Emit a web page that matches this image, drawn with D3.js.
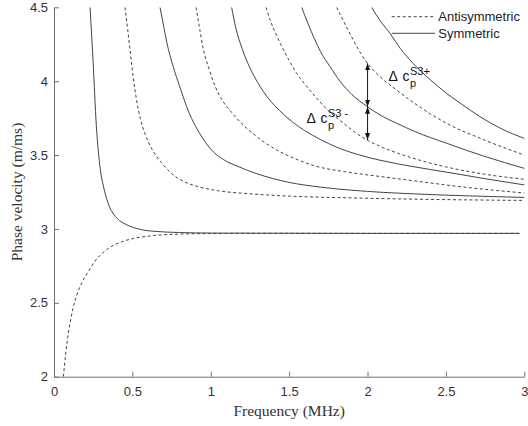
<!DOCTYPE html>
<html>
<head>
<meta charset="utf-8">
<script src="https://cdn.jsdelivr.net/npm/d3@7"></script>
<style>
  html, body { margin: 0; padding: 0; background: #fff; }
  svg { display: block; }
</style>
</head>
<body>
<svg id="chart" width="528" height="426"></svg>
<script>
// ---- data (frequency in MHz, phase velocity in m/ms) ----
const xTicks = [0, 0.5, 1, 1.5, 2, 2.5, 3];
const yTicks = [2, 2.5, 3, 3.5, 4, 4.5];

const A0_f = [0.06, 0.075, 0.091, 0.107, 0.123, 0.145, 0.166, 0.2, 0.23, 0.26, 0.293, 0.357, 0.43, 0.505, 0.6, 0.676, 0.8, 1.0, 1.5, 2.0, 2.5, 2.97];
const A0_v = [2.0, 2.16, 2.29, 2.39, 2.47, 2.55, 2.61, 2.68, 2.73, 2.78, 2.82, 2.875, 2.912, 2.935, 2.951, 2.959, 2.965, 2.969, 2.97, 2.97, 2.97, 2.97];

const S0_f = [0.23, 0.25, 0.27, 0.285, 0.3, 0.315, 0.33, 0.345, 0.36, 0.38, 0.42, 0.46, 0.55, 0.65, 0.8, 1.0, 1.5, 2.0, 2.5, 2.97];
const S0_v = [4.5, 4.12, 3.70, 3.50, 3.37, 3.29, 3.225, 3.175, 3.135, 3.10, 3.055, 3.03, 2.997, 2.983, 2.976, 2.972, 2.971, 2.97, 2.97, 2.97];

const A1_f = [0.453, 0.47, 0.485, 0.505, 0.527, 0.55, 0.58, 0.615, 0.655, 0.7, 0.75, 0.83, 0.92, 1.05, 1.25, 1.5, 1.9, 2.4, 3.0];
const A1_v = [4.5, 4.35, 4.21, 4.03, 3.87, 3.75, 3.645, 3.56, 3.49, 3.43, 3.375, 3.32, 3.286, 3.258, 3.238, 3.222, 3.21, 3.2, 3.193];

const S1_f = [0.676, 0.7, 0.72, 0.76, 0.8, 0.86, 0.93, 1.0, 1.08, 1.18, 1.29, 1.4, 1.5, 1.7, 1.9, 2.3, 2.7, 3.0];
const S1_v = [4.5, 4.37, 4.26, 4.1, 3.97, 3.79, 3.645, 3.54, 3.47, 3.42, 3.375, 3.34, 3.315, 3.283, 3.262, 3.237, 3.222, 3.213];

const A2_f = [0.906, 0.93, 0.95, 0.99, 1.03, 1.08, 1.14, 1.2, 1.27, 1.33, 1.42, 1.55, 1.67, 1.87, 2.08, 2.3, 2.6, 3.0];
const A2_v = [4.5, 4.35, 4.23, 4.08, 3.96, 3.86, 3.78, 3.71, 3.645, 3.595, 3.535, 3.47, 3.425, 3.385, 3.355, 3.325, 3.285, 3.243];

const S2_f = [1.133, 1.16, 1.2, 1.25, 1.3, 1.37, 1.44, 1.52, 1.6, 1.7, 1.8, 1.95, 2.08, 2.3, 2.5, 2.75, 3.0];
const S2_v = [4.5, 4.36, 4.22, 4.09, 3.99, 3.88, 3.80, 3.725, 3.665, 3.605, 3.555, 3.50, 3.465, 3.42, 3.385, 3.34, 3.298];

const A3_f = [1.352, 1.38, 1.42, 1.46, 1.5, 1.55, 1.6, 1.68, 1.75, 1.83, 1.9, 2.0, 2.1, 2.2, 2.35, 2.5, 2.75, 3.0];
const A3_v = [4.5, 4.41, 4.31, 4.22, 4.14, 4.05, 3.98, 3.88, 3.80, 3.73, 3.67, 3.60, 3.55, 3.51, 3.46, 3.42, 3.37, 3.336];

const S3_f = [1.58, 1.62, 1.66, 1.7, 1.76, 1.824, 1.9, 2.0, 2.09, 2.186, 2.3, 2.504, 2.75, 3.0];
const S3_v = [4.5, 4.39, 4.29, 4.2, 4.1, 4.0, 3.91, 3.827, 3.765, 3.715, 3.66, 3.58, 3.49, 3.41];

const A4_f = [1.803, 1.85, 1.909, 1.95, 2.0, 2.08, 2.186, 2.3, 2.504, 2.75, 3.0];
const A4_v = [4.5, 4.4, 4.279, 4.2, 4.121, 4.03, 3.94, 3.85, 3.715, 3.6, 3.50];

const S4_f = [2.026, 2.08, 2.143, 2.21, 2.29, 2.4, 2.504, 2.6, 2.717, 2.85, 3.0];
const S4_v = [4.5, 4.41, 4.324, 4.22, 4.121, 4.01, 3.918, 3.845, 3.76, 3.68, 3.613];

const antisymmetric = [[A0_f, A0_v], [A1_f, A1_v], [A2_f, A2_v], [A3_f, A3_v], [A4_f, A4_v]];
const symmetric = [[S0_f, S0_v], [S1_f, S1_v], [S2_f, S2_v], [S3_f, S3_v], [S4_f, S4_v]];

// annotation: arrows at f = 2 MHz between A4, S3 and A3
const arrowF = 2;
const arrowV = [4.121, 3.827, 3.602];

const legendLabels = ["Antisymmetric", "Symmetric"];

// ---- drawing ----
const svg = d3.select("#chart");
const x = d3.scaleLinear().domain([0, 3]).range([54, 524.3]);
const y = d3.scaleLinear().domain([2, 4.5]).range([376.7, 7.3]);

const SANS = "'Liberation Sans', Arial, Helvetica, sans-serif";
const SERIF = "'Liberation Serif', 'Times New Roman', serif";

const defs = svg.append("defs");
defs.append("clipPath").attr("id", "clip")
  .append("rect").attr("x", x(0)).attr("y", y(4.5))
  .attr("width", x(3) - x(0) + 1).attr("height", y(2) - y(4.5));

const line = d3.line()
  .x(d => x(d[0])).y(d => y(d[1]))
  .curve(d3.curveMonotoneX);

const toPts = (fs, vs) => fs.map((f, i) => [f, vs[i]]);

const g = svg.append("g").attr("clip-path", "url(#clip)");

antisymmetric.forEach(([fs, vs]) => {
  g.append("path").attr("d", line(toPts(fs, vs)))
    .attr("fill", "none").attr("stroke", "#444").attr("stroke-width", 1)
    .attr("stroke-dasharray", "3,2.5");
});
symmetric.forEach(([fs, vs]) => {
  g.append("path").attr("d", line(toPts(fs, vs)))
    .attr("fill", "none").attr("stroke", "#444").attr("stroke-width", 1);
});

// axes
const xAxis = d3.axisBottom(x).tickValues(xTicks).tickFormat(d3.format("")).tickSizeInner(-5).tickSizeOuter(0).tickPadding(10);
const yAxis = d3.axisLeft(y).tickValues(yTicks).tickFormat(d3.format("")).tickSizeInner(-5).tickSizeOuter(0).tickPadding(6);

const gx = svg.append("g").attr("transform", `translate(0,${y(2)})`).call(xAxis);
const gy = svg.append("g").attr("transform", `translate(${x(0)},0)`).call(yAxis);
[gx, gy].forEach(a => {
  a.select(".domain").attr("stroke", "#707070");
  a.selectAll(".tick line").attr("stroke", "#707070");
  a.selectAll(".tick text").attr("fill", "#333").style("font-family", SANS).style("font-size", "13px");
});

// axis titles
svg.append("text").attr("x", x(1.5)).attr("y", 416)
  .attr("text-anchor", "middle").attr("fill", "#333")
  .style("font-family", SERIF).style("font-size", "15.5px")
  .text("Frequency (MHz)");
svg.append("text").attr("transform", `translate(22,${(y(2) + y(4.5)) / 2}) rotate(-90)`)
  .attr("text-anchor", "middle").attr("fill", "#333")
  .style("font-family", SERIF).style("font-size", "15.5px")
  .text("Phase velocity (m/ms)");

// legend
const lg = svg.append("g");
[0, 1].forEach(i => {
  const ly = 16.7 + i * 16.6;
  lg.append("line").attr("x1", 391.7).attr("x2", 435).attr("y1", ly).attr("y2", ly)
    .attr("stroke", "#444").attr("stroke-width", 1)
    .attr("stroke-dasharray", i === 0 ? "3,2.5" : null);
  lg.append("text").attr("x", 438.3).attr("y", ly + 4.6).attr("fill", "#222")
    .style("font-family", SANS).style("font-size", "13px").text(legendLabels[i]);
});

// arrows
defs.append("marker").attr("id", "ah").attr("viewBox", "0 0 7 5")
  .attr("refX", 7).attr("refY", 2.5).attr("markerWidth", 7).attr("markerHeight", 5)
  .attr("markerUnits", "userSpaceOnUse").attr("orient", "auto-start-reverse")
  .append("path").attr("d", "M0,0 L7,2.5 L0,5 Z").attr("fill", "#111");

for (let i = 0; i < arrowV.length - 1; i++) {
  svg.append("line")
    .attr("x1", x(arrowF)).attr("x2", x(arrowF))
    .attr("y1", y(arrowV[i])).attr("y2", y(arrowV[i + 1]))
    .attr("stroke", "#222").attr("stroke-width", 1.1)
    .attr("marker-start", "url(#ah)").attr("marker-end", "url(#ah)");
}

// delta labels: Δ c with superscript mode label and subscript p
function deltaLabel(x0, yb, sup) {
  const t = svg.append("g").attr("fill", "#111").style("font-family", SANS);
  t.append("text").attr("x", x0).attr("y", yb).style("font-size", "14px").text("Δ");
  t.append("text").attr("x", x0 + 14).attr("y", yb).style("font-size", "14px").text("c");
  t.append("text").attr("x", x0 + 21.5).attr("y", yb - 6).style("font-size", "11px").text(sup);
  t.append("text").attr("x", x0 + 21.5).attr("y", yb + 6.5).style("font-size", "11px").text("p");
}
deltaLabel(x(arrowF) + 21, 80.7, "S3+");
deltaLabel(x(arrowF) - 61, 122.7, "S3 -");
</script>
</body>
</html>
